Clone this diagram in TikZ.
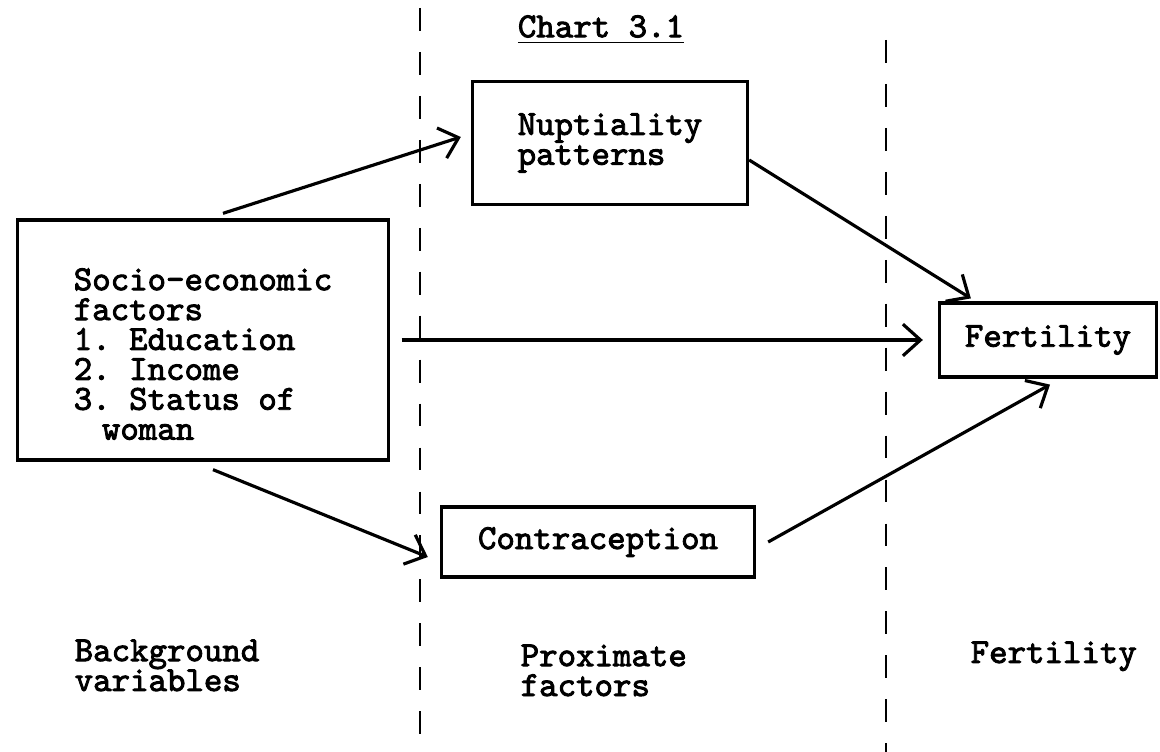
\documentclass[tikz,border=0pt]{standalone}
\usepackage{fontspec}
\setmonofont{Latin Modern Mono}[AutoFakeBold=2.5]
\usetikzlibrary{arrows.meta}

\newcommand\typew{\ttfamily\bfseries\fontsize{10}{8.5}\selectfont}

\tikzset{
    box/.style={draw, line width=0.9pt, align=left, inner sep=0pt},
    arr/.style={line width=0.9pt, -{Straight Barb[length=5pt, width=9pt]}},
    divider/.style={line width=0.7pt, dash pattern=on 6.5pt off 6pt},
    colhead/.style={anchor=base west, align=left, inner sep=0pt}
}

\begin{document}
\begin{tikzpicture}[x=0.01cm, y=-0.01cm, font=\typew]
        \useasboundingbox (0, 0) rectangle (1160, 752);

        % column dividers
        \draw[divider] (420, 8) -- (420, 752);
        \draw[divider] (886, 40) -- (886, 752);

        \node[inner sep=0pt] (chart) at (601, 30) {\underline{Chart 3.1}};

        \node[box, minimum width=3.7cm, minimum height=2.4cm] (socio) at (203, 340)
            {\rule{0pt}{0.5cm}Socio-economic\\factors\\1. Education\\2. Income\\3. Status of\\\hspace*{0.8em}woman};
        \node[box, minimum width=2.75cm, minimum height=1.23cm] (nup) at (610, 143)
            {Nuptiality\\patterns};
        \node[box, minimum width=3.13cm, minimum height=0.7cm] (contra) at (598, 542)
            {Contraception};
        \node[box, minimum width=2.17cm, minimum height=0.74cm] (fert) at (1048, 340)
            {Fertility};

        \draw[arr] ([xshift=2mm, yshift=0.5mm]socio.north) -- ([xshift=-1mm, yshift=0.6mm]nup.west);
        \draw[arr] ([yshift=-1.7mm]nup.east) -- ([xshift=3.3mm, yshift=0.3mm]fert.north west);
        \draw[arr] ([xshift=1.2mm]socio.east) -- ([xshift=-1.5mm]fert.west);
        \draw[arr] ([xshift=1mm, yshift=-0.8mm]socio.south) -- ([xshift=-1.2mm, yshift=-1.5mm]contra.west);
        \draw[arr] ([xshift=1.2mm]contra.east) -- ([xshift=0.2mm, yshift=-0.6mm]fert.south);

        % column headings
        \node[colhead] (bg) at (74, 691) {Background\\variables};
        \node[colhead] (prox) at (520, 696) {Proximate\\factors};
        \node[colhead] (fcol) at (970, 663) {Fertility};
    \end{tikzpicture}
\end{document}
